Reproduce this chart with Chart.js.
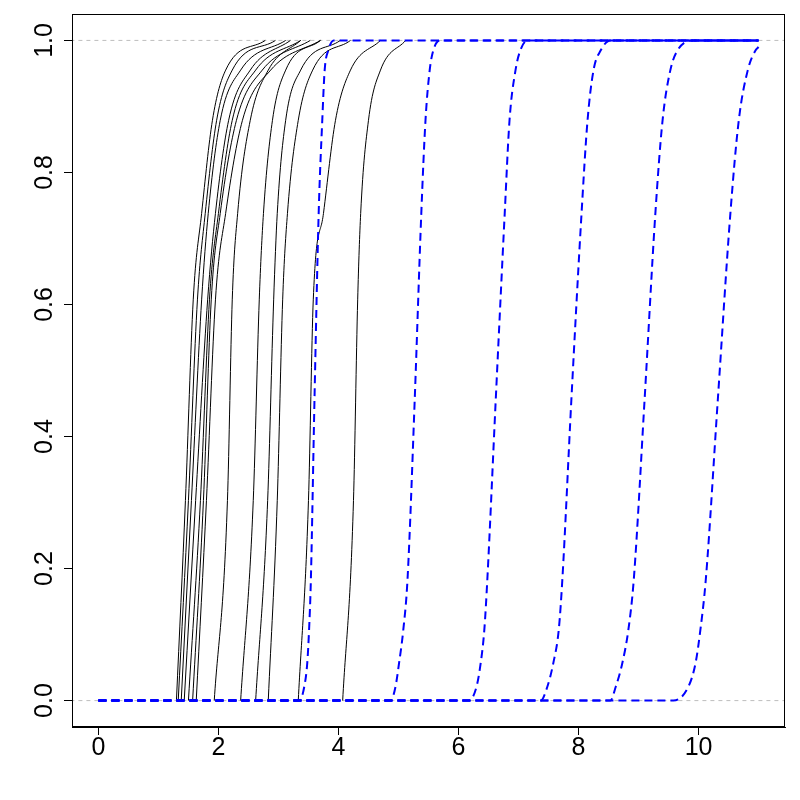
<!DOCTYPE html>
<html><head><meta charset="utf-8">
<script src="https://cdn.jsdelivr.net/npm/chart.js@4/dist/chart.umd.min.js"></script>
<style>html,body{margin:0;padding:0;background:#fff}canvas{display:block}</style>
</head><body>
<canvas id="c" width="800" height="800"></canvas>
<script>
// y levels at which the black curves were read
const yLevelsBlack = [0, 0.303, 0.607, 0.738, 0.879, 0.955, 1.0];
const blackA = [1.30, 1.45, 1.58, 1.72, 1.90, 2.12, 2.78];
const blackB = [1.33, 1.50, 1.65, 1.78, 1.97, 2.23, 2.95];
const blackC = [1.38, 1.55, 1.72, 1.83, 2.03, 2.37, 3.12];
const blackD = [1.43, 1.62, 1.82, 1.95, 2.17, 2.53, 3.20];
const blackE = [1.50, 1.70, 1.85, 2.00, 2.23, 2.62, 3.37];
const blackF = [1.57, 1.75, 1.88, 2.03, 2.30, 2.73, 3.53];
const blackG = [1.63, 1.80, 1.95, 2.12, 2.40, 2.87, 3.70];
const blackH = [1.93, 2.15, 2.23, 2.32, 2.53, 2.83, 3.37];
const blackI = [2.37, 2.58, 2.68, 2.75, 2.90, 3.12, 3.70];
const blackJ = [2.62, 2.82, 2.92, 2.98, 3.12, 3.37, 4.03];
const blackK = [2.83, 2.98, 3.07, 3.15, 3.33, 3.57, 4.20];
const blackL = [3.33, 3.50, 3.58, 3.75, 3.95, 4.20, 4.70];
const blackM = [4.07, 4.25, 4.32, 4.37, 4.50, 4.70, 5.12];
const blackCurves = [blackA, blackB, blackC, blackD, blackE, blackF, blackG, blackH, blackI, blackJ, blackK, blackL, blackM];

// y levels at which the blue dashed curves were read
const yLevelsBlue = [0, 0.021, 0.057, 0.107, 0.183, 0.455, 0.738, 0.879, 0.955, 0.985, 1.0];
const blue1 = [3.35, 3.43, 3.48, 3.51, 3.54, 3.60, 3.67, 3.73, 3.77, 3.83, 3.92];
const blue2 = [4.87, 4.95, 5.01, 5.08, 5.15, 5.27, 5.38, 5.45, 5.52, 5.58, 5.70];
const blue3 = [6.17, 6.30, 6.37, 6.43, 6.48, 6.62, 6.77, 6.85, 6.95, 7.03, 7.15];
const blue4 = [7.37, 7.48, 7.58, 7.67, 7.73, 7.88, 8.05, 8.15, 8.25, 8.37, 8.53];
const blue5 = [8.53, 8.62, 8.73, 8.83, 8.92, 9.10, 9.28, 9.40, 9.53, 9.65, 9.92];
const blue6 = [9.58, 9.83, 9.95, 10.03, 10.12, 10.32, 10.53, 10.67, 10.82, 10.95];
const blueCurves = [blue1, blue2, blue3, blue4, blue5, blue6];
const blueStartX = 0;
const blueEndX = 11;
const blueEndY = [1, 1, 1, 1, 1, 0.99];

const xTicks = [0, 2, 4, 6, 8, 10];
const yTicks = [0, 0.2, 0.4, 0.6, 0.8, 1.0];
const refLines = [0, 1];

const datasets = [];
refLines.forEach(v => datasets.push({
  data: [{x: -1, y: v}, {x: 12, y: v}],
  borderColor: '#bebebe', borderWidth: 1, borderDash: [4, 4],
  pointRadius: 0, order: 3, tension: 0
}));
blackCurves.forEach(c => datasets.push({
  data: c.map((x, i) => ({x: x, y: yLevelsBlack[i]})),
  borderColor: '#000000', borderWidth: 1, pointRadius: 0, order: 2,
  cubicInterpolationMode: 'monotone'
}));
blueCurves.forEach((c, k) => {
  const pts = [{x: blueStartX, y: 0}];
  c.forEach((x, i) => pts.push({x: x, y: yLevelsBlue[i]}));
  pts.push({x: blueEndX, y: blueEndY[k]});
  datasets.push({
    data: pts, borderColor: '#0000ff', borderWidth: 2, borderDash: [8, 5],
    pointRadius: 0, order: 1, cubicInterpolationMode: 'monotone'
  });
});

const FONT = '25px "Liberation Sans", Arial, sans-serif';
const framePlugin = {
  id: 'frame',
  afterDraw(chart) {
    const ctx = chart.ctx, a = chart.chartArea;
    const xs = chart.scales.x, ys = chart.scales.y;
    ctx.save();
    ctx.strokeStyle = '#000'; ctx.lineWidth = 1;
    ctx.strokeRect(Math.round(a.left) + 0.5, Math.round(a.top) + 0.5,
                   Math.round(a.right - a.left) - 1, Math.round(a.bottom - a.top) - 1);
    ctx.fillStyle = '#000'; ctx.font = FONT;
    ctx.textAlign = 'center'; ctx.textBaseline = 'middle';
    xTicks.forEach(v => ctx.fillText(String(v), xs.getPixelForValue(v), 748));
    yTicks.forEach(v => {
      ctx.save();
      ctx.translate(45, ys.getPixelForValue(v));
      ctx.rotate(-Math.PI / 2);
      ctx.fillText(v.toFixed(1), 0, 0);
      ctx.restore();
    });
    ctx.restore();
  }
};

new Chart(document.getElementById('c'), {
  type: 'line',
  data: { datasets },
  plugins: [framePlugin],
  options: {
    responsive: false, animation: false,
    layout: { padding: { left: 0, top: 14, right: 15, bottom: 0 } },
    plugins: { legend: { display: false }, tooltip: { enabled: false } },
    scales: {
      x: {
        type: 'linear', min: -0.44, max: 11.44,
        afterBuildTicks: s => { s.ticks = xTicks.map(v => ({value: v})); },
        afterFit: s => { s.height = 73; },
        ticks: { display: false },
        grid: { drawOnChartArea: false, drawTicks: true, tickLength: 8, color: '#000' },
        border: { display: true, color: '#000' }
      },
      y: {
        type: 'linear', min: -0.04, max: 1.04,
        afterBuildTicks: s => { s.ticks = yTicks.map(v => ({value: v})); },
        afterFit: s => { s.width = 72; },
        ticks: { display: false },
        grid: { drawOnChartArea: false, drawTicks: true, tickLength: 8, color: '#000' },
        border: { display: true, color: '#000' }
      }
    }
  }
});
</script>
</body></html>
